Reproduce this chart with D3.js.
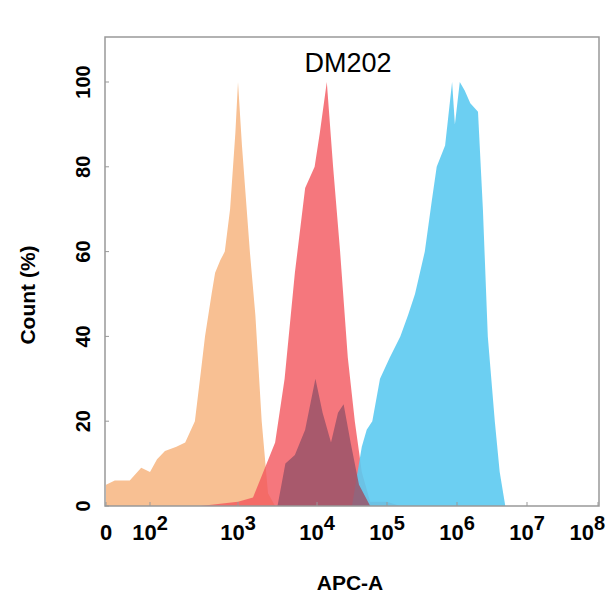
<!DOCTYPE html><html><head><meta charset="utf-8"><script src="https://cdn.jsdelivr.net/npm/d3@7"></script>
<style>body{margin:0;background:#fff}text{font-family:"Liberation Sans",Arial,sans-serif}</style></head><body><svg width="608" height="608"></svg><script>
// x values are log10(APC-A); 1.5 is the "0" position
const tickVals=[1.5,2,3,4,5,6,7,8];
const tickLabels=["0","2","3","4","5","6","7","8"];
const yTicks=[0,20,40,60,80,100];
const orangeX=[1.5,1.6,1.77,1.9,2,2.08,2.17,2.3,2.4,2.51,2.58,2.625,2.7,2.74,2.8,2.85,2.91,2.97,3.0,3.05,3.09,3.15,3.22,3.3,3.38,3.47];
const orangeY=[5,6,6,9,8,11,13,14,15,20,32,40,50,55,58,60,70,88,100,85,75,60,45,20,3,0];
const redX=[2.57,3.0,3.19,3.32,3.47,3.59,3.72,3.85,3.97,4.04,4.14,4.23,4.33,4.44,4.54,4.64,4.76,5.0,5.19];
const redY=[0,1,2,8,15,30,55,75,80,88,100,80,60,35,20,8,1,1,0];
const darkX=[3.5,3.6,3.72,3.85,3.98,4.08,4.2,4.3,4.38,4.48,4.6,4.76];
const darkY=[0,10,12,18,30,22,15,22,24,15,5,0];
const blueX=[4.5,4.58,4.64,4.71,4.79,4.9,5.04,5.19,5.3,5.4,5.54,5.64,5.71,5.83,5.93,5.97,6.04,6.11,6.19,6.3,6.37,6.44,6.54,6.61,6.69];
const blueY=[0,8,14,18,20,30,35,40,45,50,60,72,80,85,100,90,100,98,95,93,70,40,20,8,0];
const svg=d3.select("svg");
const x=d3.scaleLinear().domain(tickVals).range([106,150,238,317,387,457,527,598]);
const y=d3.scaleLinear().domain([0,100]).range([506,82]);
const L=105,R=599,T=37,B=506;
function area(xs,ys,fill,op){const d=xs.map((v,i)=>[v,ys[i]]);
 svg.append("path").datum(d).attr("fill",fill).attr("fill-opacity",op)
 .attr("d",d3.area().x(p=>x(p[0])).y0(y(0)).y1(p=>y(p[1])));}
area(orangeX,orangeY,"#f8c093",1);
area(redX,redY,"#f2555c",0.8);
area(blueX,blueY,"#5ccaf1",0.9);
area(darkX,darkY,"#9a5468",0.85);
svg.append("rect").attr("x",L).attr("y",T).attr("width",R-L).attr("height",B-T).attr("fill","none").attr("stroke","#999").attr("stroke-width",1.5);
const g=svg.append("g");
tickVals.forEach((v,i)=>{const px=x(v);
 g.append("line").attr("x1",px).attr("x2",px).attr("y1",B).attr("y2",B-4).attr("stroke","#999");
 const last=i===tickVals.length-1;
 const t=g.append("text").attr("x",last?605:px).attr("y",B+34).attr("text-anchor",last?"end":"middle").attr("font-size",22).attr("font-weight","bold");
 if(i===0){t.text("0");}else{t.append("tspan").text("10");t.append("tspan").attr("dy",-10).attr("font-size",20).text(tickLabels[i]);}
});
yTicks.forEach(v=>{g.append("line").attr("x1",L).attr("x2",L+4).attr("y1",y(v)).attr("y2",y(v)).attr("stroke","#999");
 g.append("text").attr("transform",`translate(${L-15},${y(v)}) rotate(-90)`).attr("text-anchor","middle").attr("font-size",20).attr("font-weight","bold").text(v);});
svg.append("text").attr("x",348).attr("y",72).attr("text-anchor","middle").attr("font-size",27).text("DM202");
svg.append("text").attr("x",350).attr("y",590).attr("text-anchor","middle").attr("font-size",21).attr("font-weight","bold").text("APC-A");
svg.append("text").attr("transform","translate(35,295) rotate(-90)").attr("text-anchor","middle").attr("font-size",21).attr("font-weight","bold").text("Count  (%)");
</script></body></html>
